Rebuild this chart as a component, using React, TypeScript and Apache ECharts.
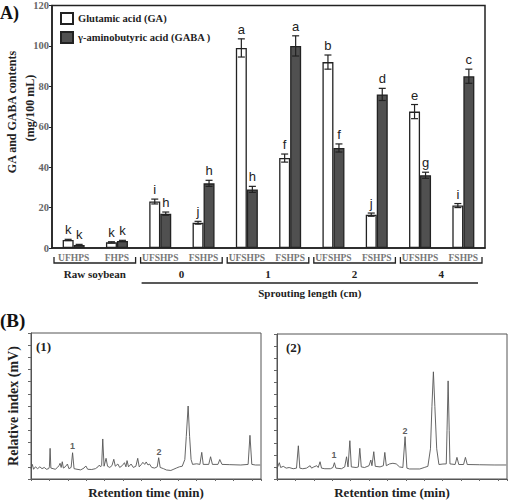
import React, { useEffect, useRef } from "react";
import * as echarts from "echarts";

// ---------- Panel A data ----------
const categories = ["UFHPS", "FHPS", "UFSHPS", "FSHPS", "UFSHPS", "FSHPS", "UFSHPS", "FSHPS", "UFSHPS", "FSHPS"];
const gaValues = [4.0, 2.8, 23.0, 12.5, 99.0, 44.5, 92.0, 16.5, 67.5, 21.0];
const gaErrors = [0.3, 0.3, 1.2, 0.7, 4.5, 2.0, 3.5, 0.8, 3.5, 1.0];
const gaLetters = ["k", "k", "i", "j", "a", "f", "b", "j", "e", "i"];
const gabaValues = [1.5, 3.5, 17.0, 32.0, 29.0, 100.0, 49.5, 76.0, 36.0, 85.0];
const gabaErrors = [0.3, 0.3, 0.8, 1.5, 1.5, 5.0, 2.0, 3.0, 1.5, 3.5];
const gabaLetters = ["k", "k", "h", "h", "h", "a", "f", "d", "g", "c"];
const groupFrom = [0, 2, 4, 6, 8];
const groupTo = [1, 3, 5, 7, 9];
const groupNames = ["Raw soybean", "0", "1", "2", "4"];
const yTicksA = { min: 0, max: 120, interval: 20 };

// ---------- Panel B data (chromatograms) ----------
const trace1: number[][] = [
  [0, 0.85], [0.36, 1.2], [0.7, 0.8], [1.2, 1.0], [1.8, 0.85], [2.4, 1.0], [3.0, 0.85], [3.6, 0.95], [4.2, 0.8], [4.8, 0.85],
  [5.0, 1.0], [5.19, 2.52], [5.4, 0.9], [6.0, 0.85], [6.6, 0.8], [7.2, 0.95], [7.6, 1.1], [7.9, 1.29], [8.2, 0.95], [8.5, 1.42],
  [8.8, 0.9], [9.3, 1.0], [9.9, 1.23], [10.3, 0.85], [10.9, 0.95], [11.3, 2.16], [11.7, 0.85], [12.5, 0.8], [13.5, 0.75],
  [14.4, 0.9], [14.9, 1.07], [15.4, 0.8], [16.5, 0.78], [17.5, 0.85], [18.2, 1.0], [18.6, 1.15], [18.9, 1.0], [19.2, 1.1],
  [19.5, 3.29], [19.85, 1.05], [20.4, 1.7], [20.8, 1.05], [21.4, 0.95], [22.0, 1.1], [22.5, 1.62], [22.9, 1.05], [23.6, 1.23],
  [24.1, 0.95], [24.8, 1.1], [25.4, 1.34], [25.8, 1.0], [26.1, 1.51], [26.5, 1.0], [27.2, 1.23], [27.8, 0.95], [28.5, 1.05],
  [29.0, 1.7], [29.4, 1.0], [30.0, 1.2], [30.4, 1.37], [30.9, 1.2], [31.3, 1.4], [31.8, 1.15], [32.2, 1.23], [32.8, 0.95],
  [33.6, 0.9], [34.3, 1.0], [34.7, 1.75], [35.1, 0.95], [36.0, 0.85], [36.8, 0.74], [38.0, 0.7], [38.6, 0.78], [39.5, 0.9],
  [40.3, 1.0], [41.1, 1.05], [41.8, 1.6], [42.2, 3.5], [42.7, 6.0], [43.1, 3.5], [43.5, 1.6], [43.9, 1.2], [45.0, 1.25],
  [45.9, 1.2], [46.4, 2.19], [46.8, 1.2], [48.3, 1.2], [48.8, 1.83], [49.3, 1.2], [50.8, 1.2], [51.3, 1.6], [51.9, 1.2],
  [54.0, 1.18], [57.0, 1.15], [59.0, 1.2], [59.5, 3.59], [60.0, 1.2], [61.0, 1.15], [62.3, 1.15],
];
const trace2: number[][] = [
  [0, 0.85], [0.63, 1.35], [1.0, 0.95], [1.7, 1.05], [2.5, 0.9], [3.3, 0.95], [4.4, 0.85], [5.3, 0.9], [5.8, 2.75], [6.2, 0.9],
  [7.0, 0.85], [8.0, 0.9], [9.0, 1.1], [9.4, 0.9], [10.0, 1.0], [10.8, 1.1], [11.2, 0.95], [11.7, 1.43], [12.1, 0.9], [13.0, 0.85],
  [14.5, 0.85], [15.2, 0.95], [15.6, 1.35], [16.0, 0.9], [17.5, 0.85], [18.4, 1.0], [18.9, 1.84], [19.3, 1.0], [19.8, 3.17],
  [20.2, 1.0], [21.5, 0.95], [22.1, 1.0], [22.5, 2.54], [22.9, 1.0], [23.8, 0.95], [25.0, 1.1], [25.5, 1.57], [25.8, 1.1],
  [26.3, 2.26], [26.7, 1.05], [28.0, 1.0], [28.9, 1.1], [29.3, 2.2], [29.7, 1.1], [30.6, 1.25], [31.5, 1.3], [32.4, 1.25],
  [33.3, 1.0], [34.2, 0.95], [34.8, 3.5], [35.3, 0.9], [36.0, 0.83], [38.8, 0.83], [40.0, 0.95], [41.0, 1.05], [41.7, 2.5],
  [42.1, 6.0], [42.5, 8.87], [42.9, 6.0], [43.4, 2.5], [44.0, 1.2], [45.1, 1.24], [46.0, 1.25], [46.2, 4.0], [46.5, 8.12],
  [46.8, 4.0], [47.0, 1.25], [48.4, 1.2], [48.9, 1.79], [49.4, 1.2], [50.7, 1.2], [51.2, 1.79], [51.7, 1.2], [55.0, 1.18],
  [59.0, 1.16], [62.3, 1.16],
];
const peakLabels1 = [{ value: [11.3, 2.75], name: "1" }, { value: [34.8, 2.25], name: "2" }];
const peakLabels2 = [{ value: [15.5, 2.0], name: "1" }, { value: [34.8, 3.95], name: "2" }];

const SERIF = "Liberation Serif";
const SANS = "Liberation Sans";
const BAR_W = 11;

function errorSeries(name: string, values: number[], errors: number[], letters: string[], offset: number) {
  return {
    type: "custom",
    name,
    xAxisIndex: 0,
    yAxisIndex: 0,
    clip: false,
    z: 5,
    itemStyle: { color: "#222" },
    data: values.map((v, i) => [i, v, errors[i]]),
    renderItem: (params: any, api: any) => {
      const i = api.value(0);
      const v = api.value(1);
      const e = api.value(2);
      const x = api.coord([i, v])[0] + offset;
      const top = api.coord([i, v + e])[1];
      const bot = api.coord([i, v - e])[1];
      const st = { stroke: "#222", lineWidth: 1.2 };
      return {
        type: "group",
        children: [
          { type: "line", shape: { x1: x, y1: top, x2: x, y2: bot }, style: st },
          { type: "line", shape: { x1: x - 3.5, y1: top, x2: x + 3.5, y2: top }, style: st },
          { type: "line", shape: { x1: x - 3.5, y1: bot, x2: x + 3.5, y2: bot }, style: st },
          {
            type: "text",
            style: {
              text: letters[params.dataIndex],
              x,
              y: top - 3,
              align: "center",
              verticalAlign: "bottom",
              fontFamily: SANS,
              fontSize: 13,
              fill: "#222",
            },
          },
        ],
      };
    },
  };
}

export default function App() {
  const ref = useRef<HTMLDivElement>(null);
  useEffect(() => {
    if (!ref.current) return;
    const chart = echarts.init(ref.current, null, { renderer: "svg" });
    const chromX = (gi: number) => ({
      type: "value",
      gridIndex: gi,
      min: 0,
      max: 62.5,
      interval: 5,
      axisLine: { show: true, lineStyle: { color: "#555", width: 1 } },
      axisTick: { show: true, length: 2, lineStyle: { color: "#666" } },
      axisLabel: { show: false },
      splitLine: { show: false },
      name: "Retention time (min)",
      nameLocation: "middle",
      nameGap: 7,
      nameTextStyle: { fontFamily: SERIF, fontWeight: "bold", fontSize: 13, color: "#222", verticalAlign: "top" },
    });
    const chromY = (gi: number) => ({
      type: "value",
      gridIndex: gi,
      min: 0,
      max: 12,
      interval: 1,
      axisLine: { show: true, lineStyle: { color: "#555", width: 1 } },
      axisTick: { show: true, length: 3, lineStyle: { color: "#666" } },
      axisLabel: { show: false },
      splitLine: { show: false },
    });
    const option: any = {
      animation: false,
      backgroundColor: "#fff",
      textStyle: { fontFamily: SERIF },
      grid: [
        { left: 52, top: 4, width: 433, height: 244, show: true, borderColor: "#222", borderWidth: 1.5, backgroundColor: "transparent" },
        { left: 31, top: 333, width: 230, height: 146, show: true, borderColor: "#555", borderWidth: 1, backgroundColor: "transparent" },
        { left: 277, top: 334, width: 230, height: 145, show: true, borderColor: "#555", borderWidth: 1, backgroundColor: "transparent" },
      ],
      legend: {
        data: ["Glutamic acid (GA)", "γ-aminobutyric acid (GABA )"],
        orient: "vertical",
        left: 60,
        top: 12,
        padding: 0,
        itemWidth: 12,
        itemHeight: 11,
        itemGap: 6,
        icon: "rect",
        textStyle: { fontFamily: SERIF, fontWeight: "bold", fontSize: 10.5, color: "#222" },
      },
      xAxis: [
        {
          type: "category",
          gridIndex: 0,
          data: categories,
          axisLine: { lineStyle: { color: "#222", width: 1.5 } },
          axisTick: { show: false },
          axisLabel: { interval: 0, margin: 5, fontFamily: SERIF, fontWeight: "bold", fontSize: 9.5, color: "#777" },
        },
        chromX(1),
        chromX(2),
      ],
      yAxis: [
        {
          type: "value",
          gridIndex: 0,
          min: yTicksA.min,
          max: yTicksA.max,
          interval: yTicksA.interval,
          axisLine: { show: true, lineStyle: { color: "#222", width: 1.5 } },
          axisTick: { show: true, length: 3, lineStyle: { color: "#222" } },
          axisLabel: { margin: 3, fontFamily: SERIF, fontWeight: "bold", fontSize: 10.5, color: "#666" },
          splitLine: { show: false },
        },
        {
          ...chromY(1),
          name: "Relative index (mV)",
          nameLocation: "middle",
          nameRotate: 90,
          nameGap: 11,
          nameTextStyle: { fontFamily: SERIF, fontWeight: "bold", fontSize: 14, color: "#222" },
        },
        chromY(2),
      ],
      series: [
        {
          type: "bar",
          name: "Glutamic acid (GA)",
          xAxisIndex: 0,
          yAxisIndex: 0,
          data: gaValues,
          barWidth: BAR_W,
          barGap: "0%",
          itemStyle: { color: "#fff", borderColor: "#222", borderWidth: 1.3 },
        },
        {
          type: "bar",
          name: "γ-aminobutyric acid (GABA )",
          xAxisIndex: 0,
          yAxisIndex: 0,
          data: gabaValues,
          barWidth: BAR_W,
          barGap: "0%",
          itemStyle: { color: "#505050", borderColor: "#222", borderWidth: 1.3 },
        },
        errorSeries("gaErr", gaValues, gaErrors, gaLetters, -BAR_W / 2),
        errorSeries("gabaErr", gabaValues, gabaErrors, gabaLetters, BAR_W / 2),
        {
          type: "custom",
          name: "brackets",
          xAxisIndex: 0,
          yAxisIndex: 0,
          clip: false,
          silent: true,
          itemStyle: { color: "#222" },
          data: groupFrom.map((f, i) => [f, groupTo[i]]),
          renderItem: (params: any, api: any) => {
            const a = api.coord([api.value(0), 0]);
            const b = api.coord([api.value(1), 0]);
            const band = api.size([1, 0])[0];
            const l = a[0] - band / 2 + 2;
            const r = b[0] + band / 2 - 3;
            const y0 = a[1];
            const st = { stroke: "#222", lineWidth: 1.3, fill: null };
            return {
              type: "group",
              children: [
                { type: "polyline", shape: { points: [[l, y0 + 9], [l, y0 + 15], [r, y0 + 15], [r, y0 + 9]] }, style: st },
                {
                  type: "text",
                  style: {
                    text: groupNames[params.dataIndex],
                    x: (l + r) / 2,
                    y: y0 + 26,
                    align: "center",
                    verticalAlign: "middle",
                    fontFamily: SERIF,
                    fontWeight: "bold",
                    fontSize: 11,
                    fill: "#222",
                  },
                },
              ],
            };
          },
        },
        {
          type: "custom",
          name: "sprouting",
          xAxisIndex: 0,
          yAxisIndex: 0,
          clip: false,
          silent: true,
          itemStyle: { color: "#222" },
          data: [[groupFrom[1], groupTo[groupTo.length - 1]]],
          renderItem: (params: any, api: any) => {
            const a = api.coord([api.value(0), 0]);
            const b = api.coord([api.value(1), 0]);
            const band = api.size([1, 0])[0];
            const l = a[0] - band / 2 + 3;
            const r = b[0] + band / 2 - 7;
            const y0 = a[1];
            return {
              type: "group",
              children: [
                { type: "line", shape: { x1: l, y1: y0 + 35, x2: r, y2: y0 + 35 }, style: { stroke: "#222", lineWidth: 1.3 } },
                {
                  type: "text",
                  style: {
                    text: "Sprouting length (cm)",
                    x: (l + r) / 2,
                    y: y0 + 45,
                    align: "center",
                    verticalAlign: "middle",
                    fontFamily: SERIF,
                    fontWeight: "bold",
                    fontSize: 11,
                    fill: "#222",
                  },
                },
              ],
            };
          },
        },
        {
          type: "line",
          name: "chrom1",
          xAxisIndex: 1,
          yAxisIndex: 1,
          data: trace1,
          showSymbol: false,
          symbol: "none",
          lineStyle: { color: "#555", width: 0.9 },
        },
        {
          type: "line",
          name: "chrom2",
          xAxisIndex: 2,
          yAxisIndex: 2,
          data: trace2,
          showSymbol: false,
          symbol: "none",
          lineStyle: { color: "#555", width: 0.9 },
        },
        {
          type: "scatter",
          xAxisIndex: 1,
          yAxisIndex: 1,
          symbolSize: 1,
          itemStyle: { color: "transparent" },
          data: peakLabels1,
          label: { show: true, position: "inside", formatter: "{b}", fontFamily: SANS, fontWeight: "bold", fontSize: 9, color: "#333" },
        },
        {
          type: "scatter",
          xAxisIndex: 2,
          yAxisIndex: 2,
          symbolSize: 1,
          itemStyle: { color: "transparent" },
          data: peakLabels2,
          label: { show: true, position: "inside", formatter: "{b}", fontFamily: SANS, fontWeight: "bold", fontSize: 9, color: "#333" },
        },
      ],
      graphic: [
        { type: "text", left: 0, top: 4, style: { text: "A)", fontFamily: SERIF, fontWeight: "bold", fontSize: 18, fill: "#111" } },
        { type: "text", left: 0, top: 311, style: { text: "(B)", fontFamily: SERIF, fontWeight: "bold", fontSize: 19, fill: "#111" } },
        {
          type: "text",
          x: 12,
          y: 112,
          rotation: Math.PI / 2,
          style: { text: "GA and GABA contents", align: "center", verticalAlign: "middle", fontFamily: SERIF, fontWeight: "bold", fontSize: 12, fill: "#222" },
        },
        {
          type: "text",
          x: 30,
          y: 108,
          rotation: Math.PI / 2,
          style: { text: "(mg/100 mL)", align: "center", verticalAlign: "middle", fontFamily: SERIF, fontWeight: "bold", fontSize: 12, fill: "#222" },
        },
        { type: "text", x: 36, y: 346, style: { text: "(1)", verticalAlign: "middle", fontFamily: SERIF, fontWeight: "bold", fontSize: 13, fill: "#222" } },
        { type: "text", x: 286, y: 347, style: { text: "(2)", verticalAlign: "middle", fontFamily: SERIF, fontWeight: "bold", fontSize: 13, fill: "#222" } },
      ],
    };
    chart.setOption(option);
    return () => chart.dispose();
  }, []);
  return <div ref={ref} style={{ position: "absolute", left: 0, top: 0, width: 512, height: 501 }} />;
}
